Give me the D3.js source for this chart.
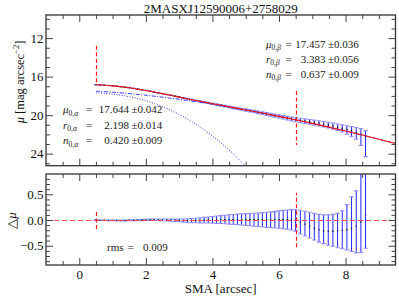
<!DOCTYPE html>
<html><head><meta charset="utf-8">
<script src="https://cdn.jsdelivr.net/npm/d3@7"></script>
<style>
html,body{margin:0;padding:0;background:#fff;}
svg{display:block;font-family:"Liberation Serif","Times New Roman",serif;}
</style></head>
<body><svg id="c" width="399" height="301"></svg>
<script>
// ---------- data ----------
const title = "2MASXJ12590006+2758029";
const sma = [0.500,0.625,0.750,0.875,1.000,1.125,1.250,1.375,1.500,1.625,1.750,1.875,2.000,2.125,2.250,2.375,2.500,2.625,2.750,2.875,
 3.000,3.125,3.250,3.375,3.500,3.625,3.750,3.875,4.000,4.125,4.250,4.375,4.500,4.625,4.750,4.875,5.000,5.125,5.250,5.375,
 5.500,5.625,5.750,5.875,6.000,6.125,6.250,6.375,6.500,6.64,6.78,6.92,7.06,7.20,7.34,7.48,7.62,7.76,7.90,8.04,8.18,8.32,8.46,8.60];
const muObs = [16.838,16.865,16.893,16.920,16.949,16.998,17.048,17.098,17.150,17.221,17.292,17.363,17.434,17.519,17.603,17.685,17.766,17.854,17.941,18.029,
 18.116,18.203,18.292,18.382,18.473,18.560,18.647,18.734,18.821,18.904,18.986,19.068,19.149,19.230,19.310,19.388,19.467,19.547,19.627,19.707,
 19.788,19.874,19.960,20.048,20.135,20.226,20.313,20.399,20.474,20.548,20.613,20.677,20.744,20.823,20.912,21.010,21.123,21.246,21.369,21.494,21.631,21.798,21.995,22.256];
const resid = [0.000,-0.003,-0.005,-0.007,-0.008,-0.009,-0.009,-0.008,-0.006,-0.004,-0.002,0.000,0.002,0.004,0.005,0.004,0.002,0.000,-0.003,-0.006,
 -0.009,-0.011,-0.012,-0.011,-0.009,-0.006,-0.003,0.000,0.003,0.006,0.008,0.010,0.011,0.012,0.012,0.011,0.010,0.008,0.006,0.005,
 0.004,0.004,0.005,0.007,0.009,0.010,0.008,0.004,-0.010,-0.04,-0.08,-0.12,-0.16,-0.19,-0.21,-0.22,-0.22,-0.21,-0.20,-0.19,-0.17,-0.12,-0.04,0.10];
const errLo = [0.004,0.004,0.005,0.005,0.006,0.006,0.007,0.008,0.008,0.009,0.010,0.011,0.012,0.013,0.014,0.016,0.017,0.019,0.021,0.024,
 0.026,0.030,0.034,0.039,0.044,0.049,0.054,0.059,0.065,0.071,0.077,0.083,0.090,0.096,0.102,0.108,0.114,0.120,0.126,0.132,
 0.140,0.147,0.154,0.161,0.168,0.178,0.188,0.198,0.210,0.23,0.23,0.23,0.23,0.24,0.25,0.27,0.29,0.33,0.36,0.39,0.44,0.52,0.59,0.65];
const errHi = [0.004,0.004,0.005,0.005,0.006,0.006,0.007,0.008,0.008,0.009,0.010,0.011,0.012,0.013,0.014,0.016,0.017,0.019,0.021,0.024,
 0.026,0.030,0.034,0.039,0.044,0.049,0.054,0.059,0.065,0.071,0.077,0.083,0.090,0.096,0.102,0.108,0.114,0.120,0.126,0.132,
 0.140,0.147,0.154,0.161,0.168,0.178,0.188,0.198,0.210,0.23,0.25,0.27,0.29,0.30,0.31,0.32,0.33,0.34,0.38,0.49,0.62,0.69,1.14,2.05];

const modelSma  = [0.5,1.0,1.5,2.0,2.5,3.0,3.5,4.0,4.5,5.0,5.5,6.0,6.5,7.0,7.5,8.0,8.5,9.0,9.5];
const muTotal   = [16.838,16.957,17.156,17.432,17.764,18.125,18.482,18.818,19.138,19.457,19.784,20.126,20.484,20.857,21.246,21.650,22.069,22.502,22.949];
const muBeta    = [17.511,17.617,17.760,17.933,18.132,18.356,18.602,18.869,19.156,19.462,19.785,20.126,20.484,20.857,21.246,21.650,22.069,22.502,22.949];
const alphaSma  = [0.5,1.0,1.5,2.0,2.5,3.0,3.5,4.0,4.5,5.0,5.5];
const muAlpha   = [17.676,17.810,18.081,18.511,19.119,19.921,20.931,22.161,23.623,25.328,27.286];

const fitLimits = [0.5, 6.5];
const limTop = [[12.8,16.85],[17.5,23.1]];
const limBot = [[-0.175,0.175],[-0.53,0.53]];

const xTicks = [0,2,4,6,8];
const xMinor = [-0.5,0.5,1,1.5,2.5,3,3.5,4.5,5,5.5,6.5,7,7.5,8.5,9];
const yTopTicks = [12,16,20,24];
const yTopMinor = [10,11,13,14,15,17,18,19,21,22,23,25];
const yBotTicks = [-0.5,0,0.5];
const yBotMinor = [-0.8,-0.7,-0.6,-0.4,-0.3,-0.2,-0.1,0.1,0.2,0.3,0.4,0.6,0.7,0.8];

const parA = [["μ","0,α","17.644","±0.042"],["r","0,α","2.198","±0.014"],["n","0,α","0.420","±0.009"]];
const parB = [["μ","0,β","17.457","±0.036"],["r","0,β","3.383","±0.056"],["n","0,β","0.637","±0.009"]];
const rmsText = ["rms","0.009"];

// ---------- layout ----------
const L = 46, R = 395.5, T1 = 15, B1 = 165.7, T2 = 174, B2 = 265;
const svg = d3.select("#c");
const x = d3.scaleLinear().domain([-1, 9.5]).range([L, R]);
const y1 = d3.scaleLinear().domain([9.6, 25.25]).range([T1, B1]);
const y2 = d3.scaleLinear().domain([0.895, -0.875]).range([T2, B2]);

const defs = svg.append("defs");
defs.append("clipPath").attr("id","clip1").append("rect").attr("x",L).attr("y",T1).attr("width",R-L).attr("height",B1-T1);
defs.append("clipPath").attr("id","clip2").append("rect").attr("x",L).attr("y",T2).attr("width",R-L).attr("height",B2-T2);

const BLUE = "#2424ff", CAP = "#8f8fff", RED = "#f01010";
const pts = sma.map((s,i)=>({s, mu:muObs[i], r:resid[i], lo:errLo[i], hi:errHi[i]}));

// ---------- top panel ----------
const g1 = svg.append("g").attr("clip-path","url(#clip1)");
g1.selectAll(".eb").data(pts).join("line")
  .attr("x1",d=>x(d.s)).attr("x2",d=>x(d.s))
  .attr("y1",d=>y1(d.mu-d.lo)).attr("y2",d=>y1(d.mu+d.hi))
  .attr("stroke",BLUE).attr("stroke-width",1);
[["lo",-1],["hi",1]].forEach(([k,sg])=>{
  g1.selectAll(".cap"+k).data(pts).join("line")
    .attr("x1",d=>x(d.s)-2.2).attr("x2",d=>x(d.s)+2.2)
    .attr("y1",d=>y1(d.mu+sg*d[k])).attr("y2",d=>y1(d.mu+sg*d[k]))
    .attr("stroke",CAP).attr("stroke-width",1.1);
});
g1.selectAll(".pt").data(pts).join("circle")
  .attr("cx",d=>x(d.s)).attr("cy",d=>y1(d.mu)).attr("r",0.8).attr("fill","#111");

const line = (xs, ys, sc) => d3.line().curve(d3.curveCatmullRom.alpha(0.5))
  .x((d,i)=>x(xs[i])).y((d,i)=>sc(ys[i]))(xs);
g1.append("path").attr("d",line(alphaSma,muAlpha,y1)).attr("fill","none")
  .attr("stroke","#3a3aff").attr("stroke-width",1).attr("stroke-dasharray","1,1.6");
g1.append("path").attr("d",line(modelSma,muBeta,y1)).attr("fill","none")
  .attr("stroke","#3a3aff").attr("stroke-width",1).attr("stroke-dasharray","4,1.5,1,1.5");
g1.append("path").attr("d",line(modelSma,muTotal,y1)).attr("fill","none")
  .attr("stroke",RED).attr("stroke-width",1.1);
fitLimits.forEach((f,i)=>{
  g1.append("line").attr("x1",Math.round(x(f))+0.5).attr("x2",Math.round(x(f))+0.5)
    .attr("y1",y1(limTop[i][0])).attr("y2",y1(limTop[i][1]))
    .attr("stroke","#ff1a1a").attr("stroke-width",1.2).attr("stroke-dasharray","4,2.5");
});

// ---------- bottom panel ----------
const g2 = svg.append("g").attr("clip-path","url(#clip2)");
g2.selectAll(".eb").data(pts).join("line")
  .attr("x1",d=>x(d.s)).attr("x2",d=>x(d.s))
  .attr("y1",d=>y2(d.r-d.lo)).attr("y2",d=>y2(d.r+d.hi))
  .attr("stroke",BLUE).attr("stroke-width",1);
[["lo",-1],["hi",1]].forEach(([k,sg])=>{
  g2.selectAll(".cap"+k).data(pts).join("line")
    .attr("x1",d=>x(d.s)-2.2).attr("x2",d=>x(d.s)+2.2)
    .attr("y1",d=>y2(d.r+sg*d[k])).attr("y2",d=>y2(d.r+sg*d[k]))
    .attr("stroke",CAP).attr("stroke-width",1.1);
});
g2.selectAll(".pt").data(pts).join("circle")
  .attr("cx",d=>x(d.s)).attr("cy",d=>y2(d.r)).attr("r",0.7).attr("fill","#111");
g2.append("line").attr("x1",L).attr("x2",R).attr("y1",Math.round(y2(0))+0.5).attr("y2",Math.round(y2(0))+0.5)
  .attr("stroke","#ff5050").attr("stroke-width",1.1).attr("stroke-dasharray","5,3");
fitLimits.forEach((f,i)=>{
  g2.append("line").attr("x1",Math.round(x(f))+0.5).attr("x2",Math.round(x(f))+0.5)
    .attr("y1",y2(limBot[i][0])).attr("y2",y2(limBot[i][1]))
    .attr("stroke","#ff1a1a").attr("stroke-width",1.2).attr("stroke-dasharray","4,2.5");
});

// ---------- axes ----------
function ax(gen, pos, vals, size, fmt){
  const g = svg.append("g").attr("transform",pos)
    .call(gen.tickValues(vals).tickSize(-size).tickFormat(fmt||""));
  g.select(".domain").remove();
  g.selectAll(".tick line").attr("stroke","#444").attr("stroke-width",1);
  g.selectAll("text").attr("font-family","Liberation Serif, serif").attr("font-size",13).attr("fill","#111");
  return g;
}
[[T1,B1,y1,yTopTicks,yTopMinor,d3.format("d")],[T2,B2,y2,yBotTicks,yBotMinor,d3.format(".1f")]].forEach(([t,b,ys,maj,mn,fmt])=>{
  ax(d3.axisBottom(x), `translate(0,${b})`, xMinor, 4, null);
  ax(d3.axisTop(x), `translate(0,${t})`, xMinor, 4, null);
  ax(d3.axisTop(x), `translate(0,${t})`, xTicks, 7, null);
  ax(d3.axisLeft(ys), `translate(${L},0)`, mn, 4, null);
  ax(d3.axisRight(ys), `translate(${R},0)`, mn, 4, null);
  ax(d3.axisRight(ys), `translate(${R},0)`, maj, 7, null);
  const gl = ax(d3.axisLeft(ys), `translate(${L},0)`, maj, 7, fmt);
  gl.selectAll("text").attr("x",-2.5);
});
ax(d3.axisBottom(x), `translate(0,${B1})`, xTicks, 7, null);
const gb = ax(d3.axisBottom(x), `translate(0,${B2})`, xTicks, 7, d3.format("d"));
gb.selectAll("text").attr("y",4.8);

// frames
[[T1,B1],[T2,B2]].forEach(([t,b])=>{
  svg.append("rect").attr("x",L).attr("y",t).attr("width",R-L).attr("height",b-t)
    .attr("fill","none").attr("stroke","#333").attr("stroke-width",1.3);
});

// ---------- text ----------
svg.append("text").attr("x",(L+R)/2).attr("y",12.8).attr("text-anchor","middle")
  .attr("font-size",13).attr("fill","#111").text(title);

svg.append("text").attr("x",(L+R)/2).attr("y",292.5).attr("text-anchor","middle")
  .attr("font-size",13).attr("fill","#111").text("SMA [arcsec]");

const yl = svg.append("text").attr("transform","translate(24,82) rotate(-90)")
  .attr("text-anchor","middle").attr("font-size",12.5).attr("fill","#111");
yl.append("tspan").attr("font-style","italic").text("μ");
yl.append("tspan").text(" [mag arcsec");
yl.append("tspan").attr("font-size",8.5).attr("dy",-5.5).text("−2");
yl.append("tspan").attr("dy",5.5).text("]");

const yl2 = svg.append("text").attr("transform","translate(16,220.5) rotate(-90)")
  .attr("text-anchor","middle").attr("font-size",13).attr("fill","#111");
yl2.append("tspan").text("△");
yl2.append("tspan").attr("font-style","italic").text("μ");

function params(rows, x0, xEq, xPm, y0, dy){
  rows.forEach((r,i)=>{
    const yy = y0 + i*dy;
    const t = svg.append("text").attr("x",x0).attr("y",yy).attr("font-size",11).attr("fill","#222");
    t.append("tspan").attr("font-style","italic").text(r[0]);
    const sub = r[1].split(",");
    t.append("tspan").attr("font-size",7.5).attr("dy",2.5).text(sub[0]+",");
    t.append("tspan").attr("font-size",7.5).attr("font-style","italic").text(sub[1]);
    svg.append("text").attr("x",xEq).attr("y",yy).attr("font-size",11).attr("fill","#222").text("=");
    svg.append("text").attr("x",xPm-2.5).attr("y",yy).attr("text-anchor","end").attr("font-size",11).attr("fill","#222").text(r[2]);
    svg.append("text").attr("x",xPm).attr("y",yy).attr("font-size",11).attr("fill","#222").text(r[3]);
  });
}
params(parA, 63, 86, 131.5, 113.3, 15.5);
params(parB, 266, 285.5, 328, 47.7, 15);

svg.append("text").attr("x",107).attr("y",251).attr("font-size",11).attr("fill","#222").text(rmsText[0]);
svg.append("text").attr("x",127.5).attr("y",251).attr("font-size",11).attr("fill","#222").text("=");
svg.append("text").attr("x",143).attr("y",251).attr("font-size",11).attr("fill","#222").text(rmsText[1]);
</script></body></html>
